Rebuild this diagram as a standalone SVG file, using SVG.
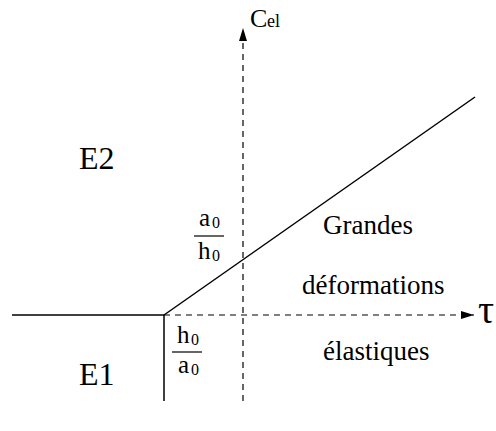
<svg xmlns="http://www.w3.org/2000/svg" width="496" height="431" viewBox="0 0 496 431">
<style>
text{font-family:'Liberation Serif','DejaVu Serif','Times New Roman',serif;fill:#000}
.s{stroke:#000;stroke-width:1.5;fill:none}
.d{stroke:#000;stroke-width:1.2;fill:none;stroke-dasharray:6,5}
.big{font-size:32px}
.m{font-size:27px}
.f{font-size:25px}
.sub{font-size:16px}
.fl{stroke:#000;stroke-width:1.2}
</style>
<defs>
<marker id="ah" markerWidth="13" markerHeight="8" refX="13" refY="4" orient="auto" markerUnits="userSpaceOnUse"><path d="M0,0 L13,4 L0,8 z" fill="#000"/></marker>
</defs>
<g id="connectors">
<line class="s" x1="12" y1="315" x2="164" y2="315"/>
<line class="s" x1="164" y1="315" x2="164" y2="401"/>
<line class="s" x1="164" y1="315" x2="475" y2="97"/>
<line class="d" x1="243" y1="401" x2="243" y2="28" marker-end="url(#ah)"/>
<line class="d" x1="164" y1="315" x2="474" y2="315" marker-end="url(#ah)"/>
</g>
<g font-family="Liberation Serif, DejaVu Serif, serif">
<g id="axis-cel"><text x="250" y="27" style="font-size:26px">C</text><text x="267" y="27" style="font-size:18px">el</text></g>
<g id="axis-tau"><text x="478" y="323" style="font-size:40px">τ</text></g>
<g id="E2"><text x="79" y="169" class="big">E2</text></g>
<g id="E1"><text x="79" y="385" class="big">E1</text></g>
<g id="frac1">
<text x="199" y="226" class="f">a</text><text x="212" y="228" class="sub">0</text>
<line class="fl" x1="194" y1="236" x2="224" y2="236"/>
<text x="198" y="259" class="f">h</text><text x="212" y="261" class="sub">0</text>
</g>
<g id="frac2">
<text x="177" y="343" class="f">h</text><text x="191" y="345" class="sub">0</text>
<line class="fl" x1="172" y1="352" x2="202" y2="352"/>
<text x="178" y="373" class="f">a</text><text x="191" y="375" class="sub">0</text>
</g>
<g id="label">
<text x="323" y="234" class="m">Grandes</text>
<text x="302" y="294" class="m">déformations</text>
<text x="323" y="360" class="m">élastiques</text>
</g>
</g>
</svg>
